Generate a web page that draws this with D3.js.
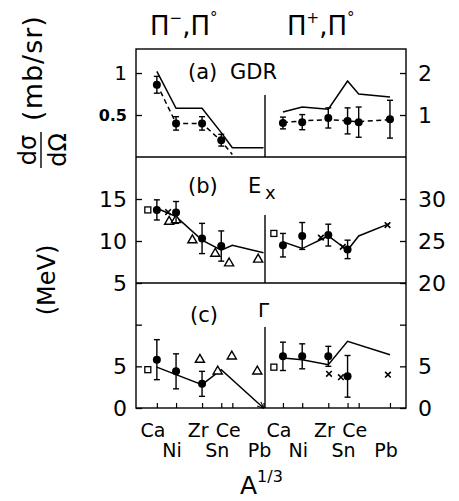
<!DOCTYPE html>
<html><head><meta charset="utf-8">
<script src="https://cdn.jsdelivr.net/npm/d3@7"></script>
<style>body{margin:0;background:#fff}svg{display:block}</style>
</head><body><svg id="c" width="459" height="501"></svg>
<script>
// ---------- data ----------
const nuclei = ["Ca","Ni","Zr","Sn","Ce","Pb"];
const massNumbers = [40,58,90,120,140,208];

// (a) GDR cross section (mb/sr)
const gdrMinusExp  = [0.86,0.40,0.40,0.20,null,null];
const gdrMinusErr  = [0.10,0.08,0.08,0.07,null,null];
const gdrMinusCalc = [1.02,0.58,0.58,0.29,0.11,0.11];
const gdrMinusFit  = [0.87,0.40,0.40,0.19,0.03,null];
const gdrPlusExp   = [0.81,0.83,0.93,0.86,0.83,0.90];
const gdrPlusErr   = [0.14,0.18,0.24,0.31,0.36,0.45];
const gdrPlusCalc  = [1.07,1.19,1.14,1.81,1.50,1.43];
const gdrPlusFit   = [0.82,0.86,0.89,0.86,0.84,0.89];

// (b) Ex (MeV)
const exMinusExp  = [13.7,13.4,10.3,9.4,null,null];
const exMinusErr  = [1.2,1.3,1.8,1.8,null,null];
const exMinusCalc = [13.9,12.9,10.1,8.9,9.5,8.6];
const exPlusExp   = [24.5,25.6,25.7,24.0,null,null];
const exPlusErr   = [1.4,1.6,1.3,1.1,null,null];
const exPlusCalc  = [24.9,24.1,25.6,23.9,25.6,27.1];

// (c) Gamma (MeV)
const gamMinusExp  = [5.8,4.4,2.9,null,null,null];
const gamMinusErr  = [2.4,2.1,1.5,null,null,null];
const gamMinusCalc = [4.9,4.0,2.8,4.6,null,0];
const gamPlusExp   = [6.2,6.2,6.2,3.8,null,null];
const gamPlusErr   = [1.7,1.5,1.2,2.5,null,null];
const gamPlusCalc  = [6.0,5.8,5.2,8.0,null,6.4];

// other data sets (mass number, value)
const squareA = 33;
const squareExMinus = 13.7, squareExPlus = 25.9, squareGamMinus = 4.6, squareGamPlus = 4.9;
const triExMinusA = [51,58,77,110,134,195];
const triExMinus  = [12.3,12.5,10.1,8.5,7.35,7.8];
const triGamMinusA = [87,114,139,193];
const triGamMinus  = [5.8,4.4,6.2,4.4];
const crossExMinusA = [50];
const crossExMinus  = [13.45];
const crossExPlusA = [80,112,202];
const crossExPlus  = [25.4,24.3,26.9];
const crossGamPlusA = [91,109,203];
const crossGamPlus  = [4.1,3.7,4.0];

// ---------- layout ----------
const svg = d3.select("#c");
const FONT = "DejaVu Sans";
const L=136, R=406, M=265, T=49, Y1=157, Y2=283, B=408;
const cbrt = a => Math.cbrt(a);
const xL = d3.scaleLinear().domain([2.93,5.96]).range([L,M]);
const xR = d3.scaleLinear().domain([3.0,6.30]).range([M,R]);

const yAL = d3.scaleLinear().domain([0,1.286]).range([Y1,T]);
const yAR = d3.scaleLinear().domain([0,2.572]).range([Y1,T]);
const yBL = d3.scaleLinear().domain([5,20]).range([Y2,Y1]);
const yBR = d3.scaleLinear().domain([20,35]).range([Y2,Y1]);
const yCL = d3.scaleLinear().domain([0,15]).range([B,Y2]);
const yCR = d3.scaleLinear().domain([0,15]).range([B,Y2]);

svg.append("defs").append("marker")
  .attr("id","arr").attr("viewBox","0 0 10 10").attr("refX",9).attr("refY",5)
  .attr("markerWidth",7).attr("markerHeight",7).attr("orient","auto-start-reverse")
  .attr("markerUnits","userSpaceOnUse")
  .append("path").attr("d","M0,1 L10,5 L0,9").attr("fill","none").attr("stroke","#000").attr("stroke-width",1.4);

// frame
const g = svg.append("g").attr("stroke","#000").attr("fill","none").attr("stroke-width",1.4);
g.append("rect").attr("x",L).attr("y",T).attr("width",R-L).attr("height",B-T);
g.append("line").attr("x1",L).attr("x2",R).attr("y1",Y1).attr("y2",Y1);
g.append("line").attr("x1",L).attr("x2",R).attr("y1",Y2).attr("y2",Y2);
[[95,Y1],[215,Y2],[327,B]].forEach(([a,b])=>g.append("line").attr("x1",M).attr("x2",M).attr("y1",a).attr("y2",b));

// axes
function yAxis(scale, side, vals, fmt, size){
  const ax = (side==="left"? d3.axisLeft(scale) : d3.axisRight(scale))
    .tickValues(vals).tickSize(-6).tickPadding(side==="left"?9:12).tickFormat(fmt);
  const ga = svg.append("g").attr("transform",`translate(${side==="left"?L:R},0)`).call(ax);
  ga.select(".domain").remove();
  ga.selectAll("line").attr("stroke","#000").attr("stroke-width",1.3);
  ga.selectAll("text").attr("font-family",FONT).attr("font-size",size).attr("fill","#000");
  return ga;
}
const ga = yAxis(yAL,"left",[0.5,1],d=>d===1?"1":"0.5",20);
ga.selectAll("text").filter(d=>d===0.5).attr("font-weight","bold").attr("font-size",16);
yAxis(yAR,"right",[1,2],d3.format("d"),22);
yAxis(yBL,"left",[5,10,15],d3.format("d"),22);
yAxis(yBR,"right",[20,25,30],d3.format("d"),22);
yAxis(yCL,"left",[0,5,10],d=>d===10?"":String(d),22);
yAxis(yCR,"right",[0,5,10],d=>d===10?"":String(d),22);

// bottom ticks & labels
[xL,xR].forEach(xs=>{
  const ax = d3.axisBottom(xs).tickValues(massNumbers.map(cbrt)).tickSize(-5).tickFormat("");
  const gb = svg.append("g").attr("transform",`translate(0,${B})`).call(ax);
  gb.select(".domain").remove();
  gb.selectAll("line").attr("stroke","#000").attr("stroke-width",1.2);
  nuclei.forEach((n,i)=>{
    svg.append("text").attr("x",xs(cbrt(massNumbers[i]))-4).attr("y",i%2===0?437:457)
      .attr("text-anchor","middle").attr("font-family",FONT).attr("font-size",19).text(n);
  });
});

// ---------- marks ----------
function line(xs, ys, vals, dash, arrow){
  const pts = vals.map((v,i)=>v==null?null:[xs(cbrt(massNumbers[i])),ys(v)]).filter(p=>p);
  const p = svg.append("path").attr("d",d3.line()(pts)).attr("fill","none")
    .attr("stroke","#000").attr("stroke-width",1.5);
  if(dash) p.attr("stroke-dasharray","5,3.5");
  if(arrow) p.attr("marker-end","url(#arr)");
}
function points(xs, ys, vals, errs){
  vals.forEach((v,i)=>{
    if(v==null) return;
    const x = xs(cbrt(massNumbers[i]));
    const e = errs[i];
    const y0 = ys(v-e), y1 = ys(v+e);
    svg.append("line").attr("x1",x).attr("x2",x).attr("y1",y0).attr("y2",y1).attr("stroke","#000").attr("stroke-width",1.4);
    [y0,y1].forEach(yy=>svg.append("line").attr("x1",x-3).attr("x2",x+3).attr("y1",yy).attr("y2",yy).attr("stroke","#000").attr("stroke-width",1.4));
    svg.append("circle").attr("cx",x).attr("cy",ys(v)).attr("r",4).attr("fill","#000");
  });
}
function squares(xs, ys, A, v){
  const x = xs(cbrt(A)), y = ys(v);
  svg.append("rect").attr("x",x-3).attr("y",y-3).attr("width",6).attr("height",6)
    .attr("fill","#fff").attr("stroke","#000").attr("stroke-width",1.3);
}
function triangles(xs, ys, As, vs){
  As.forEach((A,i)=>{
    svg.append("path").attr("d",d3.symbol(d3.symbolTriangle,36)())
      .attr("transform",`translate(${xs(cbrt(A))},${ys(vs[i])})`)
      .attr("fill","#fff").attr("stroke","#000").attr("stroke-width",1.4);
  });
}
function crosses(xs, ys, As, vs){
  As.forEach((A,i)=>{
    const x = xs(cbrt(A)), y = ys(vs[i]), s=2.8;
    svg.append("path").attr("d",`M${x-s},${y-s}L${x+s},${y+s}M${x-s},${y+s}L${x+s},${y-s}`)
      .attr("stroke","#000").attr("stroke-width",1.6);
  });
}

// (a)
line(xL,yAL,gdrMinusCalc,false);
line(xL,yAL,gdrMinusFit,true);
points(xL,yAL,gdrMinusExp,gdrMinusErr);
line(xR,yAR,gdrPlusCalc,false);
line(xR,yAR,gdrPlusFit,true);
points(xR,yAR,gdrPlusExp,gdrPlusErr);

// (b)
line(xL,yBL,exMinusCalc,false);
squares(xL,yBL,squareA,squareExMinus);
triangles(xL,yBL,triExMinusA,triExMinus);
crosses(xL,yBL,crossExMinusA,crossExMinus);
points(xL,yBL,exMinusExp,exMinusErr);
line(xR,yBR,exPlusCalc,false);
squares(xR,yBR,squareA,squareExPlus);
crosses(xR,yBR,crossExPlusA,crossExPlus);
points(xR,yBR,exPlusExp,exPlusErr);

// (c)
line(xL,yCL,gamMinusCalc,false,true);
squares(xL,yCL,squareA,squareGamMinus);
triangles(xL,yCL,triGamMinusA,triGamMinus);
points(xL,yCL,gamMinusExp,gamMinusErr);
line(xR,yCR,gamPlusCalc,false);
squares(xR,yCR,squareA,squareGamPlus);
crosses(xR,yCR,crossGamPlusA,crossGamPlus);
points(xR,yCR,gamPlusExp,gamPlusErr);

// ---------- text ----------
function txt(x,y,s,size,anchor){
  return svg.append("text").attr("x",x).attr("y",y).attr("font-family",FONT)
    .attr("font-size",size).attr("text-anchor",anchor||"start").attr("fill","#000").text(s);
}
// headers
function header(x, sup){
  const t = svg.append("text").attr("x",x).attr("y",35).attr("font-family",FONT).attr("font-size",26);
  t.append("tspan").text("Π");
  t.append("tspan").attr("font-size",15).attr("dy",-12).text(sup);
  t.append("tspan").attr("dy",12).text(",");
  t.append("tspan").text("Π");
  t.append("tspan").attr("font-size",15).attr("dy",-12).text("°");
}
header(150,"−");
header(287,"+");

// panel labels
txt(188,79,"(a)",21); txt(230,79,"GDR",21);
txt(188,193,"(b)",21); txt(248,193,"E",21); txt(265,199,"x",18);
txt(190,322,"(c)",21); txt(258,317,"Γ",20);

// y titles
const yt = svg.append("g").attr("font-family",FONT).attr("fill","#000");
yt.append("text").attr("transform","translate(42,68) rotate(-90)").attr("text-anchor","middle")
  .attr("font-size",27).attr("letter-spacing",1).text("(mb/sr)");
yt.append("text").attr("transform","translate(36,150) rotate(-90)").attr("text-anchor","middle")
  .attr("font-size",24).text("dσ");
yt.append("text").attr("transform","translate(66,150) rotate(-90)").attr("text-anchor","middle")
  .attr("font-size",24).text("dΩ");
svg.append("line").attr("x1",41).attr("x2",41).attr("y1",132).attr("y2",168).attr("stroke","#000").attr("stroke-width",1.4);
yt.append("text").attr("transform","translate(55,280) rotate(-90)").attr("text-anchor","middle")
  .attr("font-size",24).text("(MeV)");

// x title
const xt = svg.append("text").attr("x",240).attr("y",494).attr("font-family",FONT).attr("font-size",25);
xt.append("tspan").text("A");
xt.append("tspan").attr("font-size",16).attr("dy",-12).text("1/3");
</script></body></html>
